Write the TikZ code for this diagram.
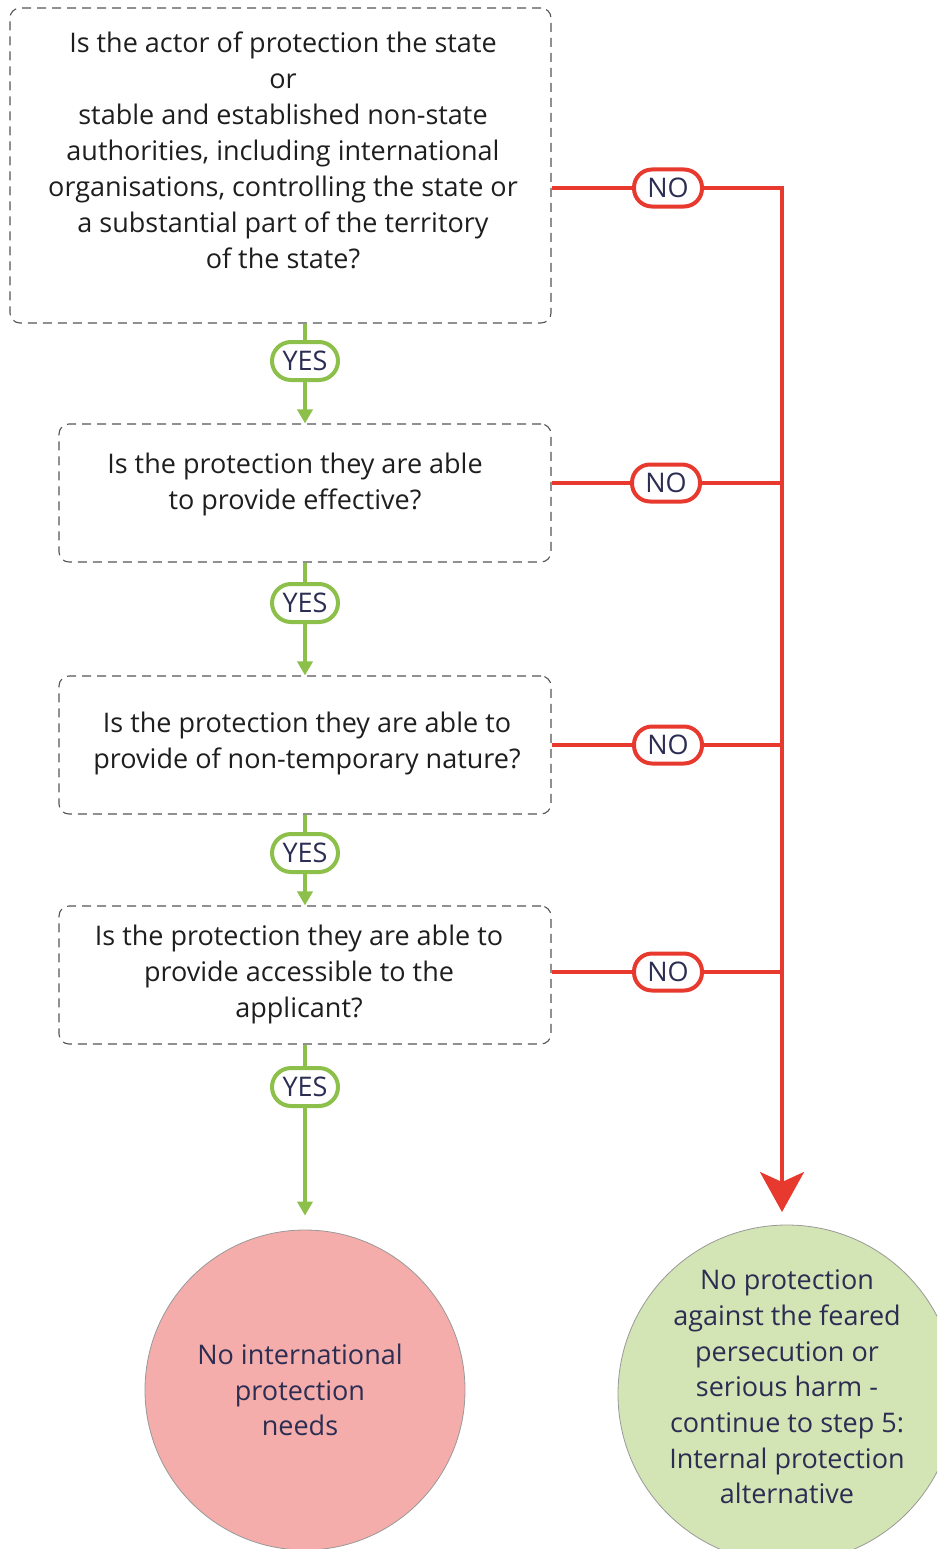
\documentclass[tikz,border=0pt]{standalone}
\usepackage{fontspec}
\setmainfont{Open Sans}
\usetikzlibrary{arrows.meta}
\definecolor{ink}{HTML}{2B2D52}
\definecolor{qtext}{HTML}{1E1E1E}
\definecolor{yesgreen}{HTML}{8CC04B}
\definecolor{nored}{HTML}{E8392F}
\definecolor{pinkfill}{HTML}{F4ADAA}
\definecolor{greenfill}{HTML}{D3E5B4}
\definecolor{boxline}{HTML}{555555}
\tikzset{
  qbox/.style={draw=boxline, line width=1.1pt, dash pattern=on 9pt off 6pt,
    rounded corners=10pt, inner sep=0pt},
  qtextstyle/.style={text=qtext, align=center, font=\fontsize{27}{36}\selectfont},
  yeslabel/.style={draw=yesgreen, line width=4pt, fill=white, rounded corners=19pt,
    minimum width=66pt, minimum height=38pt, inner sep=0pt, text=ink,
    font=\fontsize{27}{30}\selectfont},
  nolabel/.style={draw=nored, line width=4pt, fill=white, rounded corners=18pt,
    minimum width=68pt, minimum height=37pt, inner sep=0pt, text=ink,
    font=\fontsize{27}{30}\selectfont},
  yesline/.style={draw=yesgreen, line width=3.5pt},
  yesarrow/.style={yesline, -{Triangle[length=14pt, width=15pt]}},
  noline/.style={draw=nored, line width=3.5pt},
  endcircle/.style={circle, draw=gray!80, line width=0.8pt, inner sep=0pt},
  circletext/.style={text=ink, align=center, font=\fontsize{27}{35.7}\selectfont},
}
\begin{document}
\begin{tikzpicture}[x=1pt, y=-1pt]
\useasboundingbox (0,0) rectangle (937,1549);
\clip (0,0) rectangle (937,1549);

% question boxes
\node[qbox, minimum width=541pt, minimum height=315pt] (q1) at (280.5,165.5) {};
\node[qbox, minimum width=492pt, minimum height=138pt] (q2) at (305,493) {};
\node[qbox, minimum width=492pt, minimum height=138pt] (q3) at (305,745) {};
\node[qbox, minimum width=492pt, minimum height=138pt] (q4) at (305,975) {};

\node[qtextstyle] (t1) at (283,150) {Is the actor of protection the state\\or\\stable and established non-state\\authorities, including international\\organisations, controlling the state or\\a substantial part of the territory\\of the state?};
\node[qtextstyle] (t2) at (295,484) {Is the protection they are able\\to provide effective?};
\node[qtextstyle] (t3) at (307,743) {Is the protection they are able to\\provide of non-temporary nature?};
\node[qtextstyle] (t4) at (299,974) {Is the protection they are able to\\provide accessible to the\\applicant?};

% outcome circles
\node[endcircle, fill=pinkfill, minimum size=320pt] (c1) at (305,1390) {};
\node[endcircle, fill=greenfill, minimum size=338pt] (c2) at (787,1394) {};
\node[circletext] (c1t) at (300,1390) {No international\\protection\\needs};
\node[circletext] (c2t) at (787,1387) {No protection\\against the feared\\persecution or\\serious harm -\\continue to step 5:\\Internal protection\\alternative};

% YES branch
\node[yeslabel] (y1) at (305,361) {YES};
\node[yeslabel] (y2) at (305,603) {YES};
\node[yeslabel] (y3) at (305,853) {YES};
\node[yeslabel] (y4) at (305,1087) {YES};

\draw[yesline] (q1.south -| y1) -- (y1);
\draw[yesarrow] (y1) -- (q2.north -| y1);
\draw[yesline] (q2.south -| y2) -- (y2);
\draw[yesarrow] (y2) -- (q3.north -| y2);
\draw[yesline] (q3.south -| y3) -- (y3);
\draw[yesarrow] (y3) -- (q4.north -| y3);
\draw[yesline] (q4.south -| y4) -- (y4);
\draw[yesarrow, shorten >=14pt] (y4) -- (c1.north);

% NO branch
\node[nolabel] (n1) at (668,188) {NO};
\node[nolabel] (n2) at (666,483) {NO};
\node[nolabel] (n3) at (668,745) {NO};
\node[nolabel] (n4) at (668,972) {NO};

\coordinate (j1) at (782,188);
\coordinate (j2) at (782,483);
\coordinate (j3) at (782,745);
\coordinate (j4) at (782,972);
\coordinate (tip) at (782,1212);

\draw[noline] (q1.east |- n1) -- (n1);
\draw[noline] (q2.east |- n2) -- (n2);
\draw[noline] (q3.east |- n3) -- (n3);
\draw[noline] (q4.east |- n4) -- (n4);
\draw[noline] (n2) -- (j2);
\draw[noline] (n3) -- (j3);
\draw[noline] (n4) -- (j4);
\draw[noline, line join=miter, -{Stealth[length=40pt, width=44pt, inset=10pt]}] (n1) -- (j1) -- (tip);
\end{tikzpicture}
\end{document}
